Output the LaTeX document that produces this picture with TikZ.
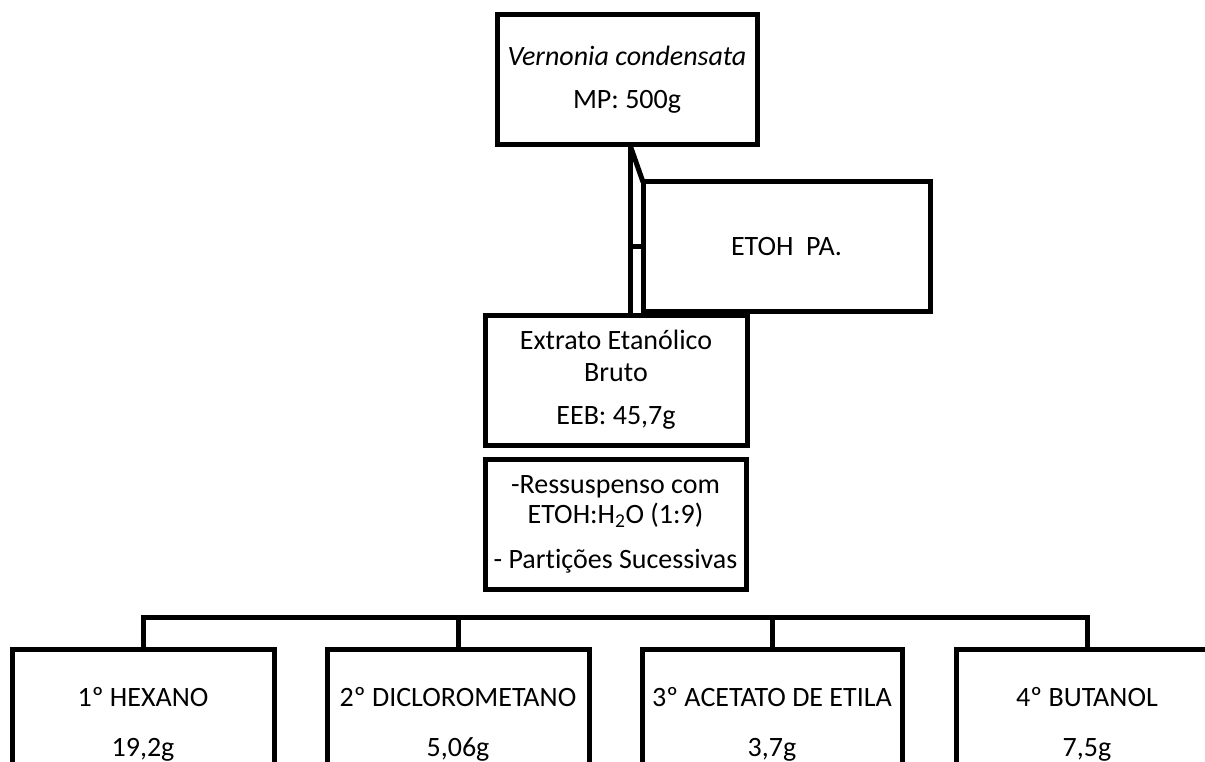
\documentclass[tikz,border=0pt]{standalone}
\usepackage{fontspec}
\setmainfont{Carlito}[Ligatures=NoCommon]
\begin{document}
\begin{tikzpicture}[x=1pt,y=-1pt,
  box/.style={draw, line width=5pt, inner sep=0pt, outer sep=0pt, align=center,
    font=\fontsize{28}{34}\selectfont},
  conn/.style={line width=5pt}]
\clip (0,0) rectangle (1205,762);
\fill[white] (0,0) rectangle (1205,762);
% main column
\node[box, minimum width=260pt, minimum height=130pt] (top) at (627,80)
  {\textit{Vernonia condensata}\\[9pt] MP: 500g};
\node[box, minimum width=287pt, minimum height=129pt] (etoh) at (786.5,246.5)
  {ETOH~ PA.};
\node[box, minimum width=262pt, minimum height=130pt] (ext) at (616,380)
  {Extrato Etanólico\\[-2pt] Bruto\\[9pt] EEB: 45,7g};
\node[box, minimum width=261pt, minimum height=130pt] (res) at (615.5,524)
  {-Ressuspenso com\\[-4pt] ETOH:H\textsubscript{2}O (1:9)\\[11pt] - Partições Sucessivas};
% fractions
\node[box, minimum width=262pt, minimum height=150pt] (b1) at (143,724)
  {1º HEXANO\\[16pt] 19,2g};
\node[box, minimum width=262pt, minimum height=150pt] (b2) at (458,724)
  {2º DICLOROMETANO\\[16pt] 5,06g};
\node[box, minimum width=260pt, minimum height=150pt] (b3) at (772,724)
  {3º ACETATO DE ETILA\\[16pt] 3,7g};
\node[box, minimum width=262pt, minimum height=150pt] (b4) at (1087,724)
  {4º BUTANOL\\[16pt] 7,5g};
% connectors top -> extract
\coordinate (L) at ([xshift=3pt]top.south);
\draw[conn] (L) -- (L |- ext.north);
\draw[conn] (L) -- (etoh.north west);
\draw[conn] (etoh.west) -- (etoh.west -| L);
\draw[conn] (etoh.south west) -- (etoh.south west |- ext.north);
% bus
\coordinate (bus) at ([yshift=32pt]b1.north);
\draw[conn] (b1.north) -- (bus) -- (bus -| b4.north) -- (b4.north);
\draw[conn] (b2.north) -- (b2.north |- bus);
\draw[conn] (b3.north) -- (b3.north |- bus);
\end{tikzpicture}
\end{document}
